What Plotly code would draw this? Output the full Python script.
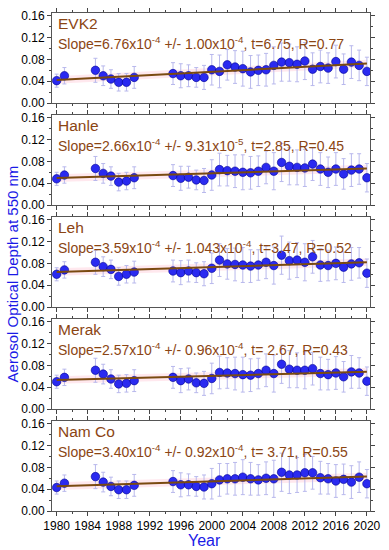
import numpy as np
import plotly.graph_objects as go
from plotly.subplots import make_subplots

years = [1980, 1981, 1985, 1986, 1987, 1988, 1989, 1990,
         1995, 1996, 1997, 1998, 1999, 2000, 2001, 2002, 2003, 2004, 2005,
         2006, 2007, 2008, 2009, 2010, 2011, 2012, 2013, 2014, 2015, 2016,
         2017, 2018, 2019, 2020]

stations = ["EVK2", "Hanle", "Leh", "Merak", "Nam Co"]

evk2 = [0.041, 0.050, 0.060, 0.050, 0.044, 0.038, 0.038, 0.047,
        0.054, 0.050, 0.050, 0.047, 0.047, 0.061, 0.058, 0.070, 0.066, 0.063, 0.057,
        0.060, 0.061, 0.069, 0.075, 0.074, 0.071, 0.077, 0.062, 0.067, 0.064, 0.076,
        0.062, 0.075, 0.069, 0.058]
hanle = [0.048, 0.055, 0.067, 0.058, 0.053, 0.042, 0.044, 0.050,
         0.054, 0.049, 0.051, 0.046, 0.045, 0.055, 0.065, 0.063, 0.062, 0.060, 0.059,
         0.062, 0.069, 0.062, 0.078, 0.071, 0.069, 0.068, 0.075, 0.066, 0.060, 0.066,
         0.057, 0.064, 0.066, 0.050]
leh = [0.060, 0.068, 0.082, 0.074, 0.069, 0.056, 0.060, 0.064,
       0.066, 0.063, 0.066, 0.063, 0.061, 0.071, 0.086, 0.079, 0.078, 0.077, 0.075,
       0.077, 0.082, 0.076, 0.095, 0.085, 0.086, 0.082, 0.092, 0.077, 0.076, 0.080,
       0.073, 0.079, 0.081, 0.062]
merak = [0.050, 0.058, 0.071, 0.064, 0.055, 0.046, 0.047, 0.052,
         0.058, 0.052, 0.055, 0.048, 0.047, 0.056, 0.067, 0.066, 0.065, 0.063, 0.062,
         0.065, 0.071, 0.065, 0.082, 0.073, 0.071, 0.071, 0.074, 0.065, 0.063, 0.066,
         0.059, 0.068, 0.066, 0.051]
namco = [0.043, 0.051, 0.063, 0.053, 0.045, 0.039, 0.039, 0.047,
         0.054, 0.048, 0.048, 0.045, 0.044, 0.050, 0.057, 0.059, 0.059, 0.062, 0.059,
         0.057, 0.060, 0.059, 0.071, 0.066, 0.066, 0.070, 0.070, 0.061, 0.059, 0.055,
         0.058, 0.053, 0.062, 0.050]

errs = [0.012, 0.015, 0.022, 0.018, 0.017, 0.016, 0.016, 0.020,
        0.020, 0.022, 0.020, 0.018, 0.022, 0.028, 0.030, 0.028, 0.030, 0.032, 0.030,
        0.028, 0.030, 0.034, 0.035, 0.034, 0.032, 0.034, 0.030, 0.030, 0.028, 0.030,
        0.028, 0.030, 0.028, 0.026]

stats = [
    "Slope=6.76x10<sup>-4</sup> +/- 1.00x10<sup>-4</sup>, t=6.75, R=0.77",
    "Slope=2.66x10<sup>-4</sup> +/- 9.31x10<sup>-5</sup>, t=2.85, R=0.45",
    "Slope=3.59x10<sup>-4</sup> +/- 1.043x10<sup>-4</sup>, t=3.47, R=0.52",
    "Slope=2.57x10<sup>-4</sup> +/- 0.96x10<sup>-4</sup>, t= 2.67, R=0.43",
    "Slope=3.40x10<sup>-4</sup> +/- 0.92x10<sup>-4</sup>, t= 3.71, R=0.55",
]

series = [evk2, hanle, leh, merak, namco]

fig = make_subplots(rows=5, cols=1, shared_xaxes=True, vertical_spacing=0.024)

brown = "#8B4513"
xr = np.array([1980, 2020])
for i, vals in enumerate(series):
    r = i + 1
    k, b = np.polyfit(years, vals, 1)
    fit = k * xr + b
    # light band around the fit
    fig.add_trace(go.Scatter(x=list(xr) + list(xr[::-1]),
                             y=list(fit + 0.007) + list((fit - 0.007)[::-1]),
                             mode="lines", fill="toself",
                             fillcolor="rgba(255,190,205,0.35)",
                             line=dict(width=0), hoverinfo="skip"), row=r, col=1)
    fig.add_trace(go.Scatter(x=years, y=vals, mode="markers",
                             error_y=dict(type="data", array=errs, color="#b8b8ec",
                                          thickness=1, width=2),
                             marker=dict(size=8.5, color="#2a2af0",
                                         line=dict(color="#000090", width=0.6))),
                  row=r, col=1)
    fig.add_trace(go.Scatter(x=xr, y=fit, mode="lines",
                             line=dict(color="#7a4a10", width=2)), row=r, col=1)
    yref = "y domain" if r == 1 else f"y{r} domain"
    xref = "x domain" if r == 1 else f"x{r} domain"
    fig.add_annotation(x=0.012, y=1.0, xref=xref, yref=yref, text=stations[i],
                       showarrow=False, xanchor="left", yanchor="top",
                       font=dict(size=15.5, color=brown))
    fig.add_annotation(x=0.012, y=0.79, xref=xref, yref=yref, text=stats[i],
                       showarrow=False, xanchor="left", yanchor="top",
                       font=dict(size=14, color=brown))

fig.update_xaxes(range=[1979.4, 2020.4], dtick=4, ticks="outside", ticklen=4,
                 minor=dict(dtick=2, ticks="outside", ticklen=2),
                 showline=True, linecolor="#555", mirror="ticks",
                 showgrid=False, zeroline=False, showticklabels=False)
fig.update_xaxes(showticklabels=True, tickfont=dict(size=12, color="black"),
                 row=5, col=1)
fig.update_yaxes(range=[0, 0.165], tickvals=[0, 0.04, 0.08, 0.12, 0.16],
                 tickformat=".2f", ticks="outside", ticklen=4,
                 minor=dict(tickvals=[0.02, 0.06, 0.10, 0.14], ticks="outside", ticklen=2),
                 showline=True, linecolor="#555", mirror="ticks",
                 showgrid=False, zeroline=False,
                 tickfont=dict(size=12, color="black"))

fig.add_annotation(x=0, y=0.475, xref="paper", yref="paper",
                   text="Aerosol Optical Depth at 550 nm", textangle=-90,
                   showarrow=False, font=dict(size=15, color="#1a1ae6"),
                   xanchor="center", yanchor="middle", xshift=-40)
fig.add_annotation(x=0.48, y=0, xref="paper", yref="paper", text="Year",
                   showarrow=False, yanchor="middle", yshift=-29,
                   font=dict(size=16, color="#1a1ae6"))

fig.update_layout(width=389, height=550, showlegend=False,
                  margin=dict(l=52, r=15, t=8, b=39),
                  plot_bgcolor="white", paper_bgcolor="white",
                  font=dict(family="Arial, Liberation Sans, sans-serif"))

fig.write_html("out.html", config={"displayModeBar": False},
               post_script="document.body.style.margin='0';")
